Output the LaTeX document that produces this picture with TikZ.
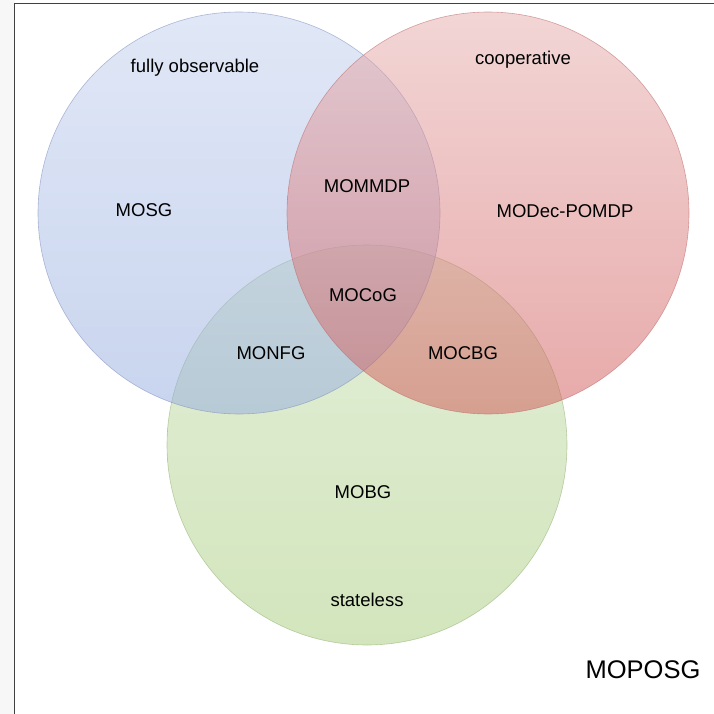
\documentclass[tikz,border=0pt]{standalone}
\usepackage{fontspec}
\setmainfont{Liberation Sans}
\begin{document}
\begin{tikzpicture}[x=1pt,y=-1pt,
  lbl/.style={font=\fontsize{18.5}{22}\selectfont, text=black},
  venn/.style={fill opacity=0.5, draw opacity=0.6, line width=0.6pt}]
\useasboundingbox (0,0) rectangle (714,714);
\fill[black!3] (0,0) rectangle (14.5,714);
\fill[white] (14.5,3.5) rectangle (714,714);
\draw[black!75, line width=1.5pt] (14.5,714) -- (14.5,3.5) -- (714,3.5);
% circles
\shade[venn, top color={rgb,255:red,201;green,223;blue,179}, bottom color={rgb,255:red,167;green,205;blue,123}, draw={rgb,255:red,150;green,180;blue,120}]
  (367,445) circle (200);
\shade[venn, top color={rgb,255:red,195;green,209;blue,239}, bottom color={rgb,255:red,147;green,171;blue,223}, draw={rgb,255:red,130;green,145;blue,190}]
  (239,213) circle (201);
\shade[venn, top color={rgb,255:red,231;green,173;blue,173}, bottom color={rgb,255:red,209;green,85;blue,85}, draw={rgb,255:red,190;green,110;blue,110}]
  (488,213) circle (201);
% labels
\node[lbl] (fo) at (195,68) {fully observable};
\node[lbl] (mosg) at (144,210) {MOSG};
\node[lbl] (coop) at (523,60) {cooperative};
\node[lbl] (mommdp) at (367,186) {MOMMDP};
\node[lbl] (modec) at (565,211) {MODec-POMDP};
\node[lbl] (mocog) at (363,295) {MOCoG};
\node[lbl] (monfg) at (271,353) {MONFG};
\node[lbl] (mocbg) at (463,353) {MOCBG};
\node[lbl] (mobg) at (363,492) {MOBG};
\node[lbl] (stl) at (367,600) {stateless};
\node[font=\fontsize{25.5}{30}\selectfont] (moposg) at (643,670) {MOPOSG};
\end{tikzpicture}
\end{document}
